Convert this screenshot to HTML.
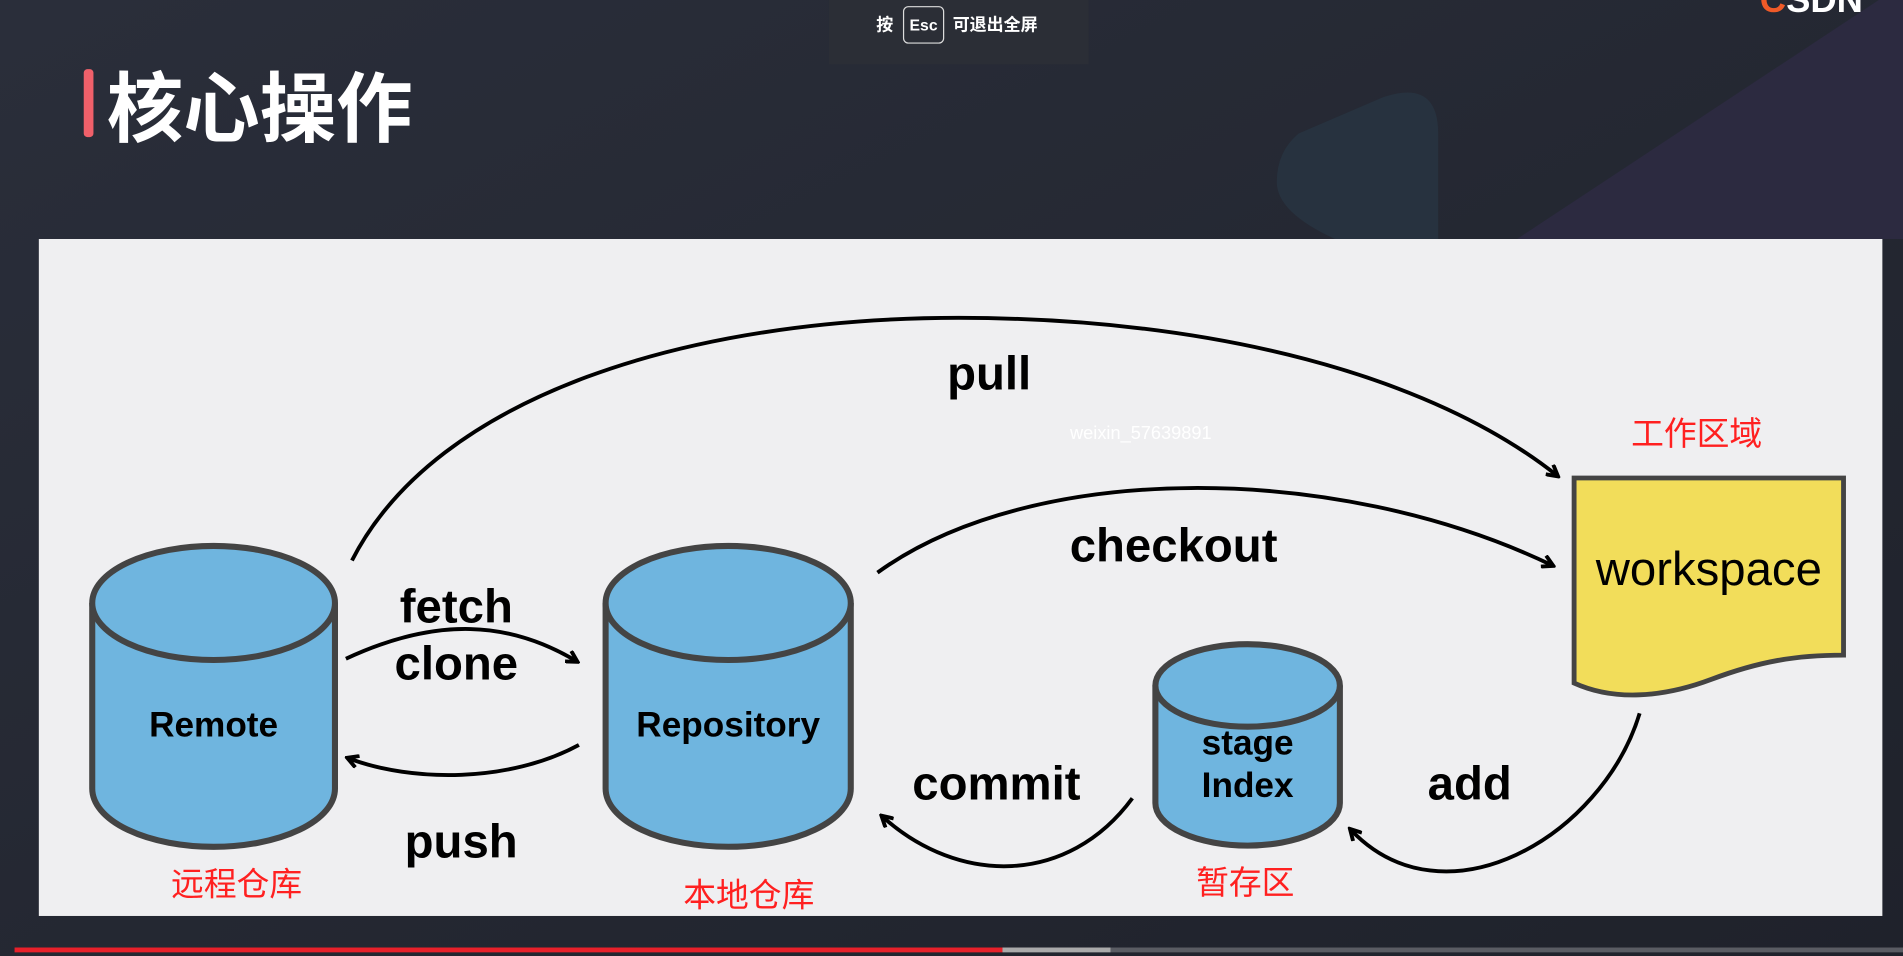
<!DOCTYPE html>
<html><head><meta charset="utf-8"><style>
html,body{margin:0;padding:0;width:1903px;height:956px;overflow:hidden;background:#262a36}
svg{display:block}
</style></head><body>
<svg width="1903" height="956" viewBox="0 0 1568 788" preserveAspectRatio="none" xmlns="http://www.w3.org/2000/svg">
<defs>
<linearGradient id="bg" x1="0" y1="0" x2="1" y2="1">
<stop offset="0" stop-color="#2a2e3a"/><stop offset="1" stop-color="#1f222b"/>
</linearGradient>
<marker id="ah" markerWidth="12" markerHeight="12" refX="9" refY="6" orient="auto" markerUnits="userSpaceOnUse">
<path d="M1,1 L10,6 L1,11" fill="none" stroke="#000" stroke-width="3.2" stroke-linejoin="miter"/>
</marker>
</defs>
<rect width="1568" height="788" fill="url(#bg)"/>
<path d="M1250,197 L1548,0 L1568,0 L1568,197 Z" fill="#2c2a40"/>
<path d="M1052,150 Q1052,125 1070,110 L1140,80 Q1185,65 1185,110 L1185,197 L1100,197 Q1052,175 1052,150 Z" fill="#27323f"/>
<!-- esc hint -->
<rect x="683" y="0" width="214" height="53" fill="#2b2e36"/>
<g font-family="Liberation Sans,'Noto Sans CJK SC',sans-serif" font-weight="bold" font-size="14" fill="#fff">
<text x="722" y="25">按</text>
<rect x="744.5" y="5.5" width="33" height="30" rx="4" fill="none" stroke="#ddd" stroke-width="1"/>
<text x="761" y="25" text-anchor="middle" font-size="13">Esc</text>
<text x="785" y="25">可退出全屏</text>
</g>
<text x="1450" y="10" font-family="Liberation Sans,sans-serif" font-weight="bold" font-size="30" fill="#fff"><tspan fill="#f05a28">C</tspan>SDN</text>
<!-- title -->
<rect x="69" y="57" width="8" height="56" rx="3" fill="#f0606a"/>
<text x="88" y="112" font-family="'Noto Sans CJK SC',sans-serif" font-weight="bold" font-size="63" fill="#fff">核心操作</text>
<!-- panel -->
<rect x="32" y="197" width="1519" height="558" fill="#efeff1"/>
<g stroke="#444" stroke-width="5" fill="#6fb5df">
<path d="M76,497 L76,650 A100,48 0 0 0 276,650 L276,497"/>
<ellipse cx="176" cy="497" rx="100" ry="47"/>
<path d="M499,497 L499,650 A101,48 0 0 0 701,650 L701,497"/>
<ellipse cx="600" cy="497" rx="101" ry="47"/>
<path d="M952,565 L952,662 A76,35 0 0 0 1104,662 L1104,565"/>
<ellipse cx="1028" cy="565" rx="76" ry="34"/>
</g>
<path d="M1297,394 L1519,394 L1519,540 C1480,540 1450,545 1410,560 C1370,575 1330,578 1297,563 Z" fill="#f2dd5a" stroke="#444" stroke-width="4"/>
<g fill="none" stroke="#000" stroke-width="3.2" marker-end="url(#ah)">
<path d="M290,462 C360,325 570,262 790,262 C1000,262 1180,310 1283,392"/>
<path d="M723,472 C850,380 1100,380 1279,466"/>
<path d="M285,543 C360,508 420,512 475,545"/>
<path d="M477,614 C420,645 340,645 287,625"/>
<path d="M933,658 C880,730 790,730 727,673"/>
<path d="M1351,588 C1320,690 1190,765 1113,684"/>
</g>
<g font-family="Liberation Sans,sans-serif" font-weight="bold" fill="#000" text-anchor="middle">
<text x="815" y="321" font-size="39">pull</text>
<text x="967" y="463" font-size="39">checkout</text>
<text x="376" y="513" font-size="39">fetch</text>
<text x="376" y="560" font-size="39">clone</text>
<text x="380" y="707" font-size="39">push</text>
<text x="821" y="659" font-size="39">commit</text>
<text x="1211" y="659" font-size="39">add</text>
<text x="176" y="607" font-size="29">Remote</text>
<text x="600" y="607" font-size="29">Repository</text>
<text x="1028" y="622" font-size="29">stage</text>
<text x="1028" y="657" font-size="29">Index</text>
</g>
<text x="1408" y="482" font-family="Liberation Sans,sans-serif" font-size="39" text-anchor="middle" fill="#000">workspace</text>
<text x="940" y="362" font-family="Liberation Sans,sans-serif" font-size="15" text-anchor="middle" fill="#fff">weixin_57639891</text>
<g font-family="'Noto Sans CJK SC',sans-serif" font-size="27" fill="#ff2020" text-anchor="middle">
<text x="1398" y="367">工作区域</text>
<text x="195" y="738">远程仓库</text>
<text x="617" y="747">本地仓库</text>
<text x="1026" y="737">暂存区</text>
</g>
<rect x="12" y="781" width="814" height="4" fill="#e8202a"/>
<rect x="826" y="781" width="89" height="4" fill="#aaa"/>
<rect x="915" y="781" width="653" height="4" fill="#5a5c63"/>
</svg>
</body></html>
